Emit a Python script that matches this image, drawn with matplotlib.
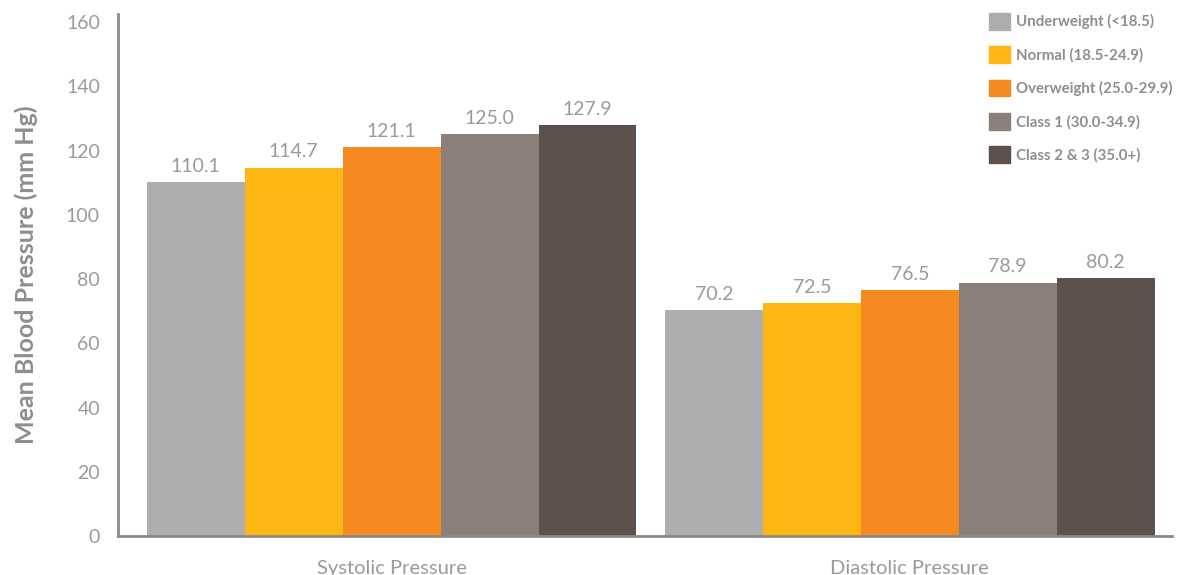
import numpy as np
import matplotlib
matplotlib.use("Agg")
from matplotlib import pyplot as plt
from matplotlib.patches import Patch

groups = ["Systolic Pressure", "Diastolic Pressure"]
categories = ["Underweight (<18.5)", "Normal (18.5-24.9)", "Overweight (25.0-29.9)",
              "Class 1 (30.0-34.9)", "Class 2 & 3 (35.0+)"]
systolic = [110.1, 114.7, 121.1, 125.0, 127.9]
diastolic = [70.2, 72.5, 76.5, 78.9, 80.2]
colors = ["#AEAEB0", "#FDB713", "#F58A21", "#8C7E79", "#5E504C"]

text_gray = "#9A9A9C"
label_gray = "#8E8E90"
spine_gray = "#8A8A8C"

plt.rcParams['font.family'] = ['Lato', 'DejaVu Sans']

fig = plt.figure(figsize=(11.82, 5.75), dpi=100)
ax = fig.add_axes([118 / 1182, 39 / 575, (1172 - 118) / 1182, (536 - 14) / 575])

x = np.arange(len(groups))
w = 0.189
values = np.array([systolic, diastolic])
for i, cat in enumerate(categories):
    pos = x + (i - 2) * w
    vals = values[:, i]
    ax.bar(pos, vals, width=w, color=colors[i], label=cat)
    for p, v in zip(pos, vals):
        ax.text(p, v + 2.2, f"{v:.1f}", ha="center", va="bottom",
                fontsize=14, color=text_gray)

ax.set_xlim(-0.528, 1.506)
ax.set_ylim(0, 162.5)
ax.set_yticks(range(0, 161, 20))
ax.set_xticks(x)
ax.set_xticklabels(groups)
ax.tick_params(axis="both", length=0, labelsize=14, labelcolor=text_gray)
ax.tick_params(axis="x", pad=17, labelsize=14.5)
ax.tick_params(axis="y", pad=13)

for s in ["top", "right"]:
    ax.spines[s].set_visible(False)
for s in ["left", "bottom"]:
    ax.spines[s].set_color(spine_gray)
    ax.spines[s].set_linewidth(2)

ax.set_ylabel("Mean Blood Pressure (mm Hg)", fontsize=18, fontweight="bold",
              color=label_gray, labelpad=20)

handles = [Patch(color=c) for c in colors]
leg = ax.legend(handles, categories, loc="upper right", bbox_to_anchor=(1.0, 1.002),
                frameon=False, handlelength=1.35, handleheight=1.35,
                handletextpad=0.4, labelspacing=1.1, borderaxespad=0.0,
                borderpad=0.0, prop={"size": 10.8, "weight": "bold"})
for t in leg.get_texts():
    t.set_color(label_gray)

fig.savefig("out.png", dpi=100)
